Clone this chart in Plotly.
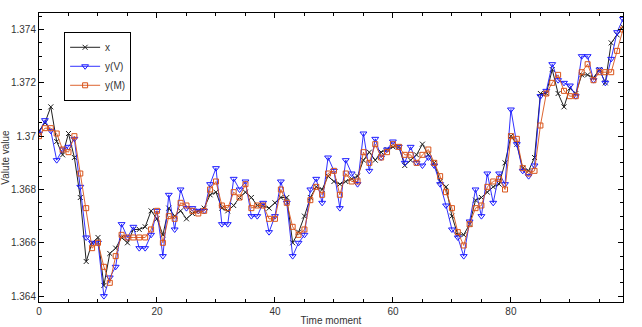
import plotly.graph_objects as go

# Time index of the samples
time = list(range(100))

# Observed series x
x_obs = [
    1.3702, 1.3705, 1.3711, 1.3698, 1.3693, 1.3701, 1.3692, 1.3677, 1.3653, 1.3660,
    1.3662, 1.3644, 1.3656, 1.3658, 1.3662, 1.3660, 1.3665, 1.3665, 1.3666, 1.3672,
    1.3669, 1.3663, 1.3673, 1.3670, 1.3672, 1.3669, 1.3671, 1.3672, 1.3673, 1.3678,
    1.3679, 1.3673, 1.3672, 1.3674, 1.3677, 1.3679, 1.3677, 1.3674, 1.3674, 1.3673,
    1.3675, 1.3677, 1.3677, 1.3660, 1.3664, 1.3670, 1.3677, 1.3681, 1.3680, 1.3685,
    1.3683, 1.3682, 1.3683, 1.3684, 1.3685, 1.3691, 1.3694, 1.3691, 1.3694, 1.3695,
    1.3696, 1.3696, 1.3689, 1.3691, 1.3693, 1.3697, 1.3693, 1.3690, 1.3683, 1.3681,
    1.3670, 1.3663, 1.3663, 1.3667, 1.3676, 1.3677, 1.3679, 1.3681, 1.3682, 1.3690,
    1.3700, 1.3697, 1.3688, 1.3687, 1.3692, 1.3716, 1.3716, 1.3725, 1.3716, 1.3711,
    1.3718, 1.3716, 1.3723, 1.3723, 1.3722, 1.3725, 1.3720, 1.3735, 1.3738, 1.3741,
]

# Estimate y(V)
y_v = [
    1.3701, 1.3706, 1.3702, 1.3691, 1.3695, 1.3696, 1.3699, 1.3681, 1.3662, 1.3660,
    1.3660, 1.3640, 1.3647, 1.3651, 1.3667, 1.3662, 1.3666, 1.3658, 1.3658, 1.3663,
    1.3672, 1.3655, 1.3678, 1.3665, 1.3680, 1.3673, 1.3673, 1.3672, 1.3672, 1.3682,
    1.3688, 1.3667, 1.3667, 1.3684, 1.3680, 1.3683, 1.3670, 1.3670, 1.3675, 1.3664,
    1.3670, 1.3683, 1.3675, 1.3655, 1.3660, 1.3663, 1.3680, 1.3684, 1.3675, 1.3692,
    1.3687, 1.3673, 1.3691, 1.3686, 1.3682, 1.3701, 1.3687, 1.3699, 1.3692, 1.3695,
    1.3698, 1.3696, 1.3690, 1.3696, 1.3690, 1.3689, 1.3692, 1.3689, 1.3682, 1.3674,
    1.3665, 1.3662, 1.3655, 1.3668, 1.3680, 1.3670, 1.3686, 1.3675, 1.3686, 1.3682,
    1.3710, 1.3697, 1.3687, 1.3685, 1.3689, 1.3715, 1.3717, 1.3727, 1.3721, 1.3720,
    1.3719, 1.3715, 1.3730, 1.3730, 1.3721, 1.3725, 1.3720, 1.3729, 1.3739, 1.3744,
]

# Estimate y(M)
y_m = [
    1.3700, 1.3703, 1.3703, 1.3701, 1.3695, 1.3694, 1.3700, 1.3686, 1.3673, 1.3658,
    1.3660, 1.3651, 1.3645, 1.3655, 1.3663, 1.3662, 1.3662, 1.3662, 1.3662, 1.3665,
    1.3672, 1.3660, 1.3670, 1.3669, 1.3675, 1.3674, 1.3672, 1.3671, 1.3672, 1.3680,
    1.3683, 1.3674, 1.3673, 1.3679, 1.3677, 1.3682, 1.3673, 1.3674, 1.3674, 1.3669,
    1.3669, 1.3680, 1.3675, 1.3666, 1.3663, 1.3665, 1.3676, 1.3681, 1.3678, 1.3686,
    1.3687, 1.3678, 1.3686, 1.3683, 1.3683, 1.3694, 1.3690, 1.3697, 1.3692, 1.3694,
    1.3697, 1.3696, 1.3693, 1.3693, 1.3690, 1.3693, 1.3695, 1.3690, 1.3685, 1.3679,
    1.3673, 1.3664, 1.3659, 1.3667, 1.3673, 1.3674, 1.3681, 1.3683, 1.3684, 1.3680,
    1.3700, 1.3699, 1.3688, 1.3686, 1.3687, 1.3704, 1.3716, 1.3720, 1.3723, 1.3717,
    1.3715, 1.3715, 1.3724, 1.3727, 1.3721, 1.3724, 1.3724, 1.3724, 1.3732, 1.3740,
]

x_ticks = [0, 20, 40, 60, 80]
y_ticks = [1.364, 1.366, 1.368, 1.370, 1.372, 1.374]
y_tick_text = ["1.364", "1.366", "1.368", "1.37", "1.372", "1.374"]

FONT = "Liberation Sans, Arial, sans-serif"
TEXT = "#333333"

fig = go.Figure()
fig.add_trace(go.Scatter(
    x=time, y=x_obs, name="x", mode="lines+markers",
    line=dict(color="#202020", width=1),
    marker=dict(symbol="x-thin-open", size=5, line=dict(color="#202020", width=1)),
))
fig.add_trace(go.Scatter(
    x=time, y=y_v, name="y(V)", mode="lines+markers",
    line=dict(color="#1a1aff", width=0.9),
    marker=dict(symbol="triangle-down-open", size=6, color="#1a1aff",
                line=dict(color="#1a1aff", width=1)),
))
fig.add_trace(go.Scatter(
    x=time, y=y_m, name="y(M)", mode="lines+markers",
    line=dict(color="#D95319", width=0.9),
    marker=dict(symbol="square-open", size=5, color="#D95319",
                line=dict(color="#D95319", width=1)),
))

axis_common = dict(
    showline=True, linecolor="#000000", linewidth=1, mirror="ticks",
    ticks="inside", ticklen=5, tickcolor="#000000", tickwidth=1,
    showgrid=False, zeroline=False, automargin=False,
    tickfont=dict(family=FONT, size=10, color=TEXT),
)

fig.update_layout(
    width=642, height=327,
    margin=dict(l=39, r=19, t=13, b=25),
    paper_bgcolor="white", plot_bgcolor="white",
    font=dict(family=FONT, size=10, color=TEXT),
    showlegend=True,
    legend=dict(
        x=0.043, y=0.935, xanchor="left", yanchor="top",
        bgcolor="white", bordercolor="#000000", borderwidth=1,
        font=dict(family=FONT, size=10, color=TEXT),
        itemwidth=30, tracegroupgap=0,
    ),
    xaxis=dict(
        range=[0, 99], tickvals=x_ticks,
        minor=dict(dtick=5, ticks="inside", ticklen=3, tickcolor="#000000"),
        title=dict(text="Time moment", font=dict(family=FONT, size=10, color=TEXT),
                   standoff=0),
        **axis_common,
    ),
    yaxis=dict(
        range=[1.36378, 1.37462], tickvals=y_ticks, ticktext=y_tick_text,
        minor=dict(dtick=0.0005, tick0=1.364, ticks="inside", ticklen=3, tickcolor="#000000"),
        title=dict(text="Valute value", font=dict(family=FONT, size=10, color=TEXT),
                   standoff=2),
        **axis_common,
    ),
)

fig.write_html("out.html")
